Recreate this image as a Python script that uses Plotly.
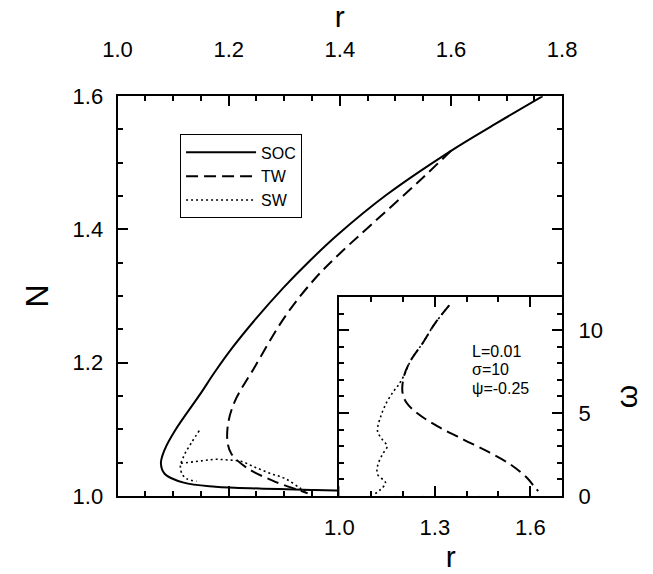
import plotly.graph_objects as go

# ---- main panel data: N versus r ----
soc_r = [1.765, 1.679, 1.600, 1.484, 1.396, 1.346, 1.299, 1.249, 1.208, 1.175, 1.148,
         1.104, 1.085, 1.078, 1.085, 1.119, 1.176, 1.262, 1.348, 1.450, 1.600]
soc_n = [1.600, 1.558, 1.518, 1.452, 1.392, 1.353, 1.313, 1.266, 1.224, 1.186, 1.152,
         1.099, 1.070, 1.049, 1.033, 1.020, 1.014, 1.011, 1.009, 1.007, 1.005]

tw_r = [1.600, 1.542, 1.455, 1.400, 1.355, 1.302, 1.245, 1.211, 1.199, 1.198,
        1.205, 1.233, 1.279, 1.325, 1.342]
tw_n = [1.518, 1.472, 1.406, 1.364, 1.326, 1.270, 1.191, 1.142, 1.109, 1.080,
        1.063, 1.042, 1.023, 1.009, 1.004]

sw_a_r = [1.147, 1.133, 1.121, 1.114, 1.113, 1.116, 1.124, 1.142]
sw_a_n = [1.098, 1.080, 1.063, 1.049, 1.044, 1.033, 1.026, 1.022]
sw_b_r = [1.114, 1.154, 1.176, 1.198, 1.222, 1.245, 1.274, 1.302, 1.330, 1.342]
sw_b_n = [1.049, 1.053, 1.055, 1.054, 1.052, 1.044, 1.034, 1.026, 1.011, 1.006]

# ---- inset data: omega versus r ----
in_tw_r = [1.345, 1.300, 1.261, 1.225, 1.204, 1.198, 1.210, 1.246, 1.309, 1.390, 1.470,
           1.540, 1.590, 1.615, 1.625]
in_tw_w = [11.5, 10.4, 9.2, 8.2, 7.3, 6.3, 5.65, 4.97, 4.2, 3.4, 2.64, 1.87, 1.08, 0.5, 0.3]

in_sw_r = [1.345, 1.300, 1.261, 1.225, 1.204, 1.186, 1.170, 1.150, 1.130, 1.120, 1.135,
           1.150, 1.135, 1.120, 1.120, 1.145, 1.130, 1.110]
in_sw_w = [11.5, 10.4, 9.2, 8.2, 7.3, 6.7, 6.3, 5.7, 4.8, 3.9, 3.4, 3.0, 2.5, 1.8, 1.3,
           0.8, 0.4, 0.1]

params_text = ["L=0.01", "σ=10", "ψ=-0.25"]
params_w = [8.7, 7.6, 6.5]   # vertical placement of each text line (omega units)

W, H = 653, 574
FONT = "Arial, Liberation Sans, sans-serif"

fig = go.Figure()
solid = dict(color="black", width=2)
dashed = dict(color="black", width=2, dash="12px,6px")
dotted = dict(color="black", width=1.6, dash="2px,3px")

fig.add_trace(go.Scatter(x=soc_r, y=soc_n, mode="lines", name="SOC", line=solid,
                         line_shape="spline", line_smoothing=1.0, xaxis="x", yaxis="y"))
fig.add_trace(go.Scatter(x=tw_r, y=tw_n, mode="lines", name="TW", line=dashed,
                         line_shape="spline", line_smoothing=1.0, xaxis="x", yaxis="y"))
fig.add_trace(go.Scatter(x=sw_a_r, y=sw_a_n, mode="lines", name="SW", line=dotted,
                         line_shape="spline", xaxis="x", yaxis="y", legendgroup="sw"))
fig.add_trace(go.Scatter(x=sw_b_r, y=sw_b_n, mode="lines", name="SW", line=dotted,
                         line_shape="spline", xaxis="x", yaxis="y", legendgroup="sw",
                         showlegend=False))

fig.add_trace(go.Scatter(x=in_tw_r, y=in_tw_w, mode="lines", line=dashed, showlegend=False,
                         line_shape="spline", xaxis="x2", yaxis="y2"))
fig.add_trace(go.Scatter(x=in_sw_r, y=in_sw_w, mode="lines", line=dotted, showlegend=False,
                         line_shape="spline", xaxis="x2", yaxis="y2"))

def px_x(p):
    return p / W

def px_y(p):
    return 1 - p / H

main_dom_x = [px_x(107.5), px_x(573.5)]
main_dom_y = [px_y(506), px_y(88)]
ins_dom_x = [px_x(340), px_x(573.5)]
ins_dom_y = [px_y(506), px_y(298)]

axis_common = dict(showline=True, linecolor="black", linewidth=2, ticks="inside",
                   tickcolor="black", tickwidth=2, ticklen=10, showgrid=False,
                   zeroline=False, tickfont=dict(family=FONT, size=22, color="black"))

annotations = [dict(xref="x2", yref="y2", x=1.41, y=w, xanchor="left", yanchor="middle",
                    text=t, showarrow=False, align="left",
                    font=dict(family=FONT, size=16, color="black"))
               for t, w in zip(params_text, params_w)]

fig.update_layout(
    width=W, height=H, margin=dict(l=0, r=0, t=0, b=0),
    paper_bgcolor="white", plot_bgcolor="white",
    font=dict(family=FONT, color="black"),
    xaxis=dict(domain=main_dom_x, range=[1.0, 1.8], side="top", anchor="y",
               tick0=1.0, dtick=0.2, tickformat=".1f", mirror="ticks", ticklabelstandoff=28,
               minor=dict(ticks="inside", ticklen=5, tickwidth=2, dtick=0.05, tickcolor="black"),
               title=dict(text="r", font=dict(size=30), standoff=2), **axis_common),
    yaxis=dict(domain=main_dom_y, range=[1.0, 1.6], anchor="x",
               tick0=1.0, dtick=0.2, tickformat=".1f", mirror="ticks", ticklabelstandoff=8,
               minor=dict(ticks="inside", ticklen=5, tickwidth=2, dtick=0.05, tickcolor="black"),
               title=dict(text="N", font=dict(size=32), standoff=14), **axis_common),
    xaxis2=dict(domain=ins_dom_x, range=[1.0, 1.7], anchor="y2", side="bottom",
                tick0=1.0, dtick=0.3, tickformat=".1f", mirror="ticks", ticklabelstandoff=11,
                minor=dict(ticks="inside", ticklen=5, tickwidth=2, dtick=0.1, tickcolor="black"),
                title=dict(text="r", font=dict(size=30), standoff=0), **axis_common),
    yaxis2=dict(domain=ins_dom_y, range=[0, 12], anchor="x2", side="right",
                tick0=0, dtick=5, mirror="ticks", ticklabelstandoff=10,
                minor=dict(ticks="inside", ticklen=5, tickwidth=2, dtick=1, tickcolor="black"),
                title=dict(text="ω", font=dict(size=30), standoff=14), **axis_common),
    legend=dict(x=px_x(173), y=px_y(128), xanchor="left", yanchor="top",
                bordercolor="black", borderwidth=1, bgcolor="white",
                font=dict(family=FONT, size=16, color="black"), itemwidth=70,
                tracegroupgap=0),
    annotations=annotations,
)

fig.write_html("out.html")
